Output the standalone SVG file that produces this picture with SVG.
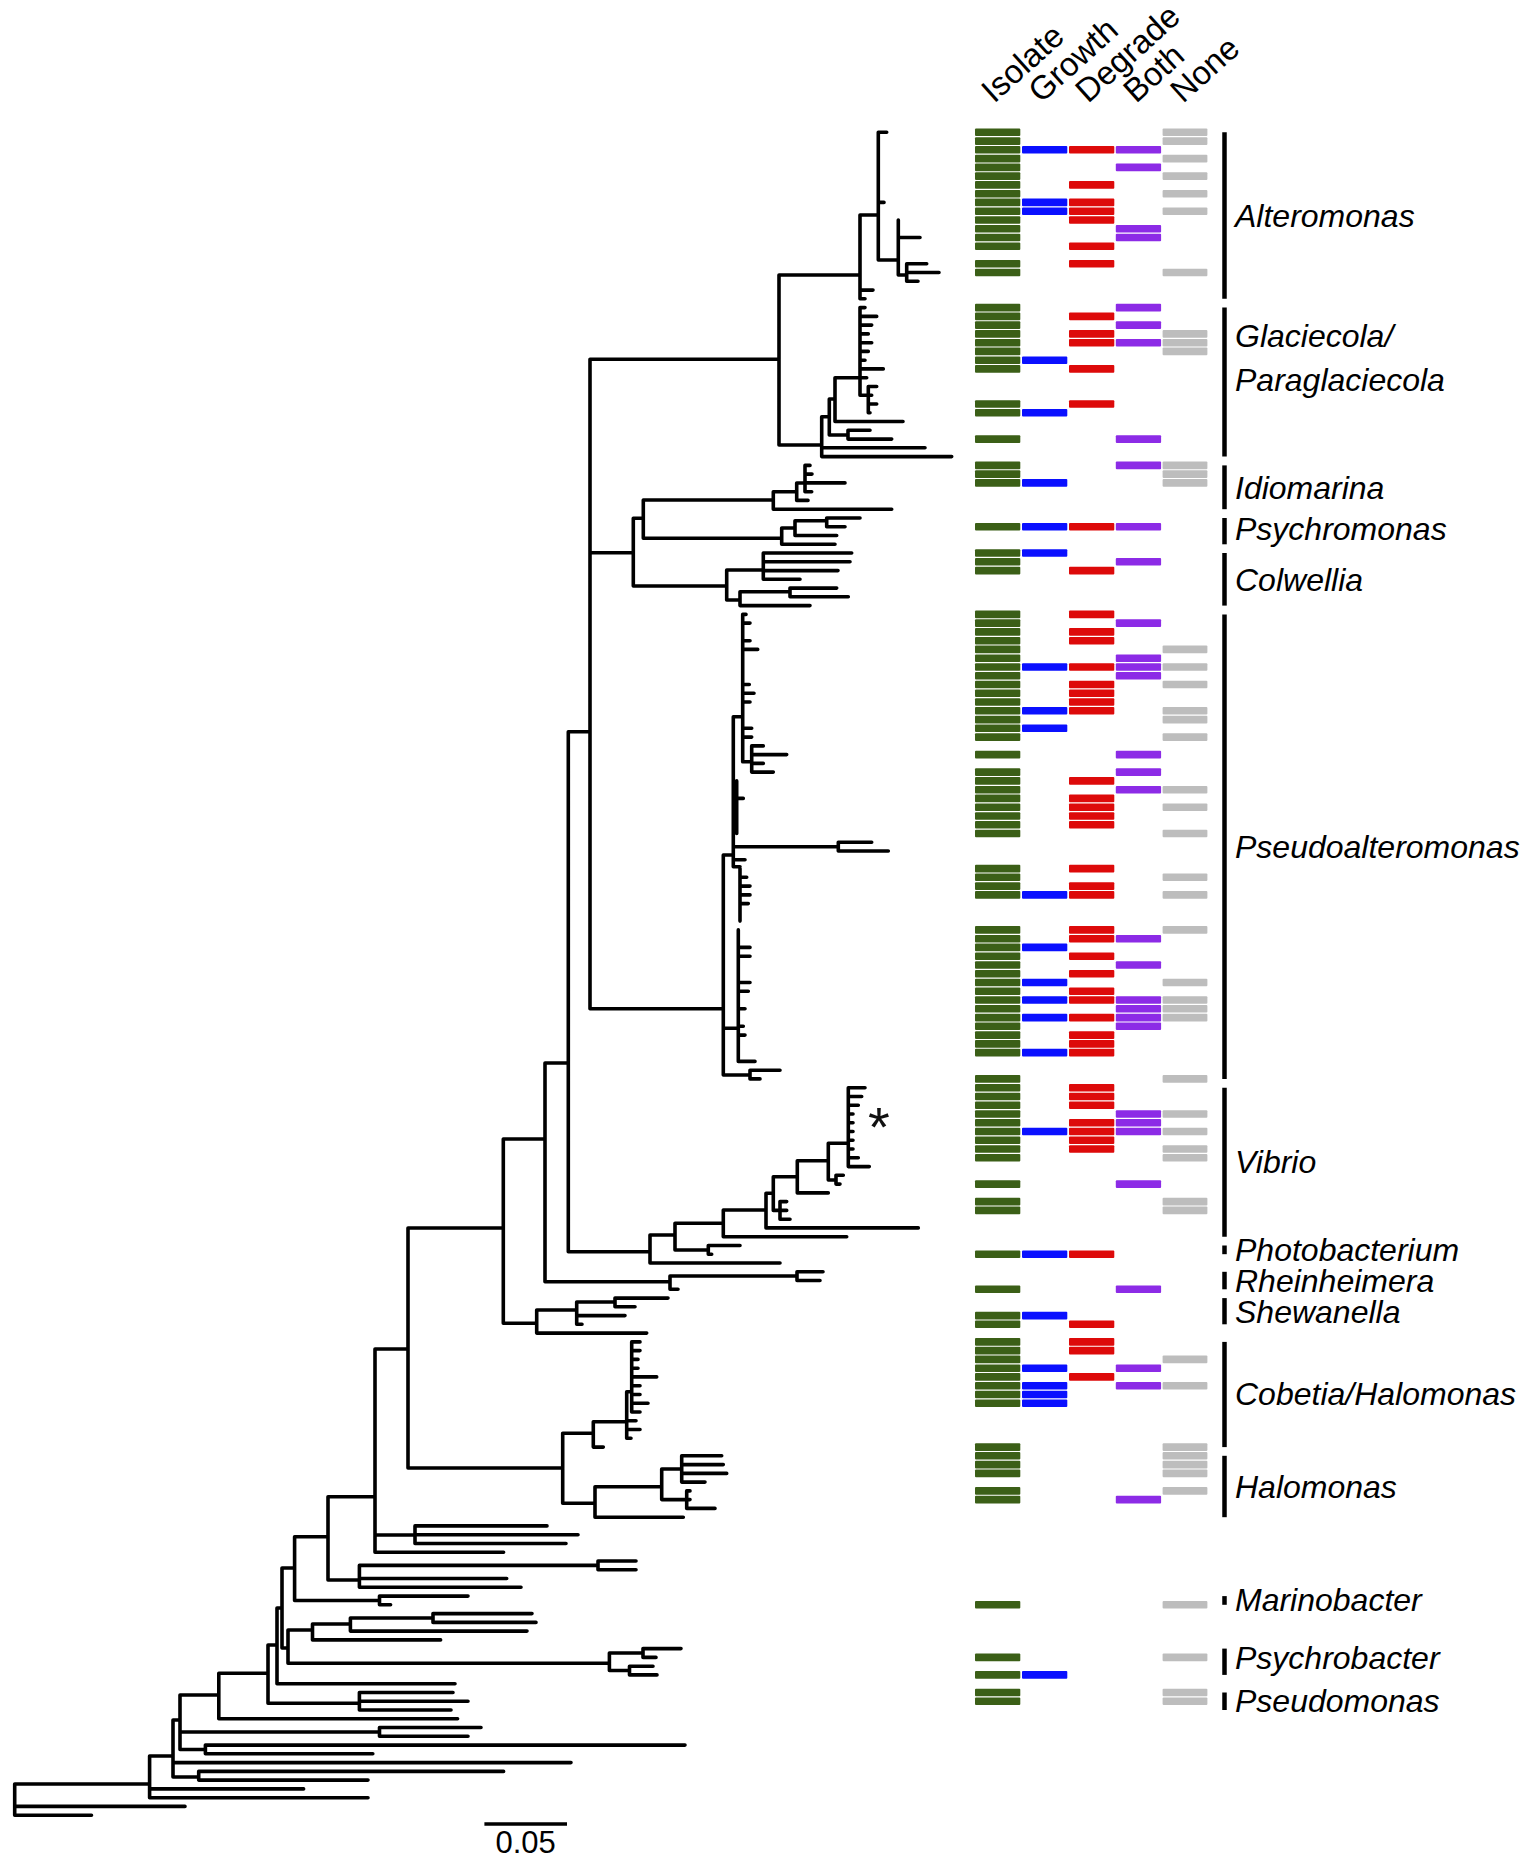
<svg xmlns="http://www.w3.org/2000/svg" xmlns:xlink="http://www.w3.org/1999/xlink" width="1535" height="1866" viewBox="0 0 1535 1866">
<style>
.br{fill:none;stroke:#000;stroke-width:3.6;stroke-linecap:round;stroke-linejoin:round}
.g{fill:#3b5f17}.b{fill:#0a10ff}.r{fill:#dd0a0a}.p{fill:#8c2be6}.n{fill:#bdbdbd}
.hd{font-family:"Liberation Sans",Arial,sans-serif;font-size:33px;fill:#000}
.gn{font-family:"Liberation Sans",Arial,sans-serif;font-size:32px;font-style:italic;fill:#000}
.brk{stroke:#000;stroke-width:4.5;fill:none}
</style>
<defs>
<rect id="G" x="975" width="45.3" height="7.6" rx="1" class="g"/>
<rect id="B" x="1022" width="45.3" height="7.6" rx="1" class="b"/>
<rect id="R" x="1069" width="45.3" height="7.6" rx="1" class="r"/>
<rect id="P" x="1115.8" width="45.3" height="7.6" rx="1" class="p"/>
<rect id="N" x="1162.6" width="44.8" height="7.6" rx="1" class="n"/>
</defs>
<rect width="1535" height="1866" fill="#fff"/>
<g id="connectors">
<path class="br" d="M14.7 1784V1815.2M14.7 1784H149.6M14.7 1806.4H185M14.7 1815.2H91.5
M149.6 1756V1797.7M149.6 1756H173M149.6 1788.9H303.6M149.6 1797.7H368
M173 1720V1777M173 1720H180M173 1762.6H571M173 1777H198.7
M198.7 1771.4V1780.1M198.7 1771.4H503.6M198.7 1780.1H368
M180 1695V1749.5M180 1695H218.8M180 1732H379.5M180 1749.5H205.4
M379.5 1727.5V1736.3M379.5 1727.5H481M379.5 1736.3H468
M205.4 1745.1V1753.8M205.4 1745.1H685M205.4 1753.8H372.8
M218.8 1673.3V1718.8M218.8 1673.3H268M218.8 1718.8H457.6
M268 1645V1703.3M268 1645H277M268 1703.3H359.4
M359.4 1692.5V1710M359.4 1692.5H453M359.4 1701.2H468M359.4 1710H451
M277 1608V1683.7M277 1608H282M277 1683.7H455
M282 1568V1648M282 1568H294.6M282 1648H288
M288 1630V1663.3M288 1630H312.5M288 1663.3H609.4
M312.5 1624V1639.9M312.5 1624H350.4M312.5 1639.9H440.6
M350.4 1618V1631.1M350.4 1618H433M350.4 1631.1H527
M433 1613.6V1622.4M433 1613.6H532M433 1622.4H536
M609.4 1653V1670.5M609.4 1653H643M609.4 1670.5H629.5
M643 1648.6V1657.4M643 1648.6H681M643 1657.4H656
M629.5 1666.2V1674.9M629.5 1666.2H653M629.5 1674.9H657
M294.6 1536.7V1600.5M294.6 1536.7H328M294.6 1600.5H379.5
M379.5 1596.1V1604.8M379.5 1596.1H468M379.5 1604.8H390.6
M328 1496.7V1580M328 1496.7H375M328 1580H359.4
M359.4 1565.4V1587.3M359.4 1565.4H598M359.4 1578.5H506.7M359.4 1587.3H521
M598 1561V1569.8M598 1561H636M598 1569.8H636
M375 1349V1552.2M375 1349H408M375 1535H415M375 1552.2H503.6
M415 1525.9V1543.5M415 1525.9H547M415 1534.7H578M415 1543.5H566
M408 1228V1468M408 1228H503.3M408 1468H562.7
M562.7 1433.3V1503.3M562.7 1433.3H593.3M562.7 1503.3H595
M593.3 1421.7V1447.1M593.3 1421.7H626.7M593.3 1447.1H603.3
M626.7 1391.7V1438.3M626.7 1391.7H631.7M626.7 1420.8H636M626.7 1429.5H640M626.7 1438.3H631
M631.7 1341.9V1412M631.7 1341.9H640M631.7 1350.6H640M631.7 1359.4H638M631.7 1368.2H638M631.7 1376.9H656.7M631.7 1385.7H640M631.7 1394.5H640M631.7 1403.2H648M631.7 1412H640
M595 1486.7V1517.2M595 1486.7H661.7M595 1517.2H683.3
M661.7 1469V1499.6M661.7 1469H681.7M661.7 1499.6H686.7
M681.7 1455.8V1482.1M681.7 1455.8H721.7M681.7 1464.6H723.3M681.7 1473.4H726.7M681.7 1482.1H705
M686.7 1490.9V1508.4M686.7 1490.9H690M686.7 1499.6H690M686.7 1508.4H715
M503.3 1139V1323.3M503.3 1139H545M503.3 1323.3H536.7
M536.7 1310V1333.1M536.7 1310H576.7M536.7 1333.1H646.7
M576.7 1302V1324.3M576.7 1302H615M576.7 1315.6H625M576.7 1324.3H582
M615 1298.1V1306.8M615 1298.1H668M615 1306.8H635
M545 1063V1281.7M545 1063H568.3M545 1281.7H670
M670 1276V1289.3M670 1276H797M670 1289.3H678
M797 1271.8V1280.5M797 1271.8H823M797 1280.5H820
M568.3 731.7V1251.7M568.3 731.7H590M568.3 1251.7H650
M650 1235V1263M650 1235H675M650 1263H780
M675 1223.3V1250M675 1223.3H723.3M675 1250H708.3
M708.3 1245.5V1254.2M708.3 1245.5H740M708.3 1254.2H711.7
M723.3 1210V1236.7M723.3 1210H766M723.3 1236.7H846.7
M766 1193.3V1227.9M766 1193.3H773.3M766 1227.9H918.3
M773.3 1176.7V1210.4M773.3 1176.7H797.3M773.3 1210.4H780
M780 1201.6V1219.2M780 1201.6H786.7M780 1210.4H786.7M780 1219.2H790
M797.3 1160.7V1192.9M797.3 1160.7H828.3M797.3 1192.9H828.3
M828.3 1143.3V1180M828.3 1143.3H848.3M828.3 1180H836
M836 1175.3V1184.1M836 1175.3H843.3M836 1184.1H840
M848.3 1087.7V1166.6M848.3 1087.7H865M848.3 1096.5H861.7M848.3 1105.2H858.3M848.3 1114H853M848.3 1122.7H853M848.3 1131.5H853M848.3 1140.3H853M848.3 1149H853M848.3 1157.8H858.3M848.3 1166.6H869.3
M590 359.3V1008.8M590 359.3H779M590 552.7H633.3M590 1008.8H723.3
M779 275V445M779 275H860M779 445H821.7
M860 215V298.8M860 215H878.3M860 290.1H873M860 298.8H865
M878.3 132.3V260M878.3 132.3H886.7M878.3 202.4H884M878.3 260H898.3
M898.3 220V275M898.3 237.5H920M898.3 275H906.7
M906.7 263.8V281.3M906.7 263.8H926.7M906.7 272.5H939M906.7 281.3H918
M821.7 416.7V456.6M821.7 416.7H829.3M821.7 447.8H925M821.7 456.6H951.7
M829.3 399V435M829.3 399H835M829.3 435H848
M848 430.3V439.1M848 430.3H870M848 439.1H891.7
M835 377.7V421.5M835 377.7H860M835 421.5H903
M860 307.6V395.2M860 307.6H865M860 316.4H876.7M860 325.1H871.7M860 333.9H868.3M860 342.7H871.7M860 351.4H868.3M860 360.2H865M860 368.9H883.3M860 377.7H866.7M860 395.2H868.3
M868.3 386.5V412.8M868.3 386.5H876.7M868.3 395.2H871.7M868.3 404H876.7M868.3 412.8H870
M633.3 518.3V586M633.3 518.3H643.3M633.3 586H726.7
M643.3 500V538.3M643.3 500H773.3M643.3 538.3H781.7
M773.3 491.7V509.2M773.3 491.7H796.7M773.3 509.2H891.7
M796.7 483V500.4M796.7 483H805M796.7 500.4H808
M805 465.4V491.7M805 465.4H810M805 474.1H812M805 482.9H845M805 491.7H811.7
M781.7 528V544.3M781.7 528H795M781.7 544.3H835
M795 520.7V535.5M795 520.7H826.7M795 535.5H836.7
M826.7 518V526.7M826.7 518H860M826.7 526.7H845
M726.7 570V600M726.7 570H763.3M726.7 600H740
M763.3 553V579.3M763.3 553H851.7M763.3 561.8H850M763.3 570.6H838M763.3 579.3H800
M740 591.7V605.6M740 591.7H790M740 605.6H810
M790 588.1V596.8M790 588.1H836.7M790 596.8H848.3
M723.3 855V1075M723.3 855H733.3M723.3 1028.3H738.3M723.3 1075H750
M733.3 716.7V866.7M733.3 716.7H742.7M733.3 807H736.7M733.3 846.7H838.3M733.3 859.8H745M733.3 866.7H740
M742.7 614.4V761.7M742.7 614.4H746M742.7 623.1H750M742.7 640.7H750M742.7 649.4H757.7M742.7 684.5H749.3M742.7 693.3H754M742.7 702H750M742.7 728.3H751.7M742.7 737.1H751.7M742.7 761.7H751.7
M751.7 745.9V772.1M751.7 745.9H763.3M751.7 754.6H786.7M751.7 763.4H763.3M751.7 772.1H773.3
M736.7 780.9V833.5M736.7 798.4H743.3
M838.3 842.3V851M838.3 842.3H871.7M838.3 851H888.3
M740 868.6V921.1M740 877.3H746.7M740 886.1H750M740 894.9H750M740 903.6H748.3
M738.3 929.9V1061.4M738.3 947.4H750M738.3 956.2H750M738.3 982.5H750M738.3 991.3H748.3M738.3 1008.8H745M738.3 1026.3H743.3M738.3 1035.1H745M738.3 1061.4H755
M750 1070.2V1078.9M750 1070.2H780M750 1078.9H760"/>
</g>
<g id="asterisk"><text x="879" y="1146" font-family="Liberation Sans, Arial, sans-serif" font-size="56" text-anchor="middle" fill="#111">*</text></g>
<g id="scale-bar">
<path d="M484.4 1824H567" stroke="#000" stroke-width="3.5" fill="none"/>
<text x="525.7" y="1853" font-family="Liberation Sans, Arial, sans-serif" font-size="31" text-anchor="middle">0.05</text>
</g>
<g id="column-headers">
<text class="hd" transform="translate(994,104) rotate(-42)">Isolate</text>
<text class="hd" transform="translate(1041,104) rotate(-42)">Growth</text>
<text class="hd" transform="translate(1088,104) rotate(-42)">Degrade</text>
<text class="hd" transform="translate(1136,104) rotate(-42)">Both</text>
<text class="hd" transform="translate(1183,104) rotate(-42)">None</text>
</g>
<g id="col-isolate">
<use href="#G" y="128.5"/><use href="#G" y="137.3"/><use href="#G" y="146.0"/><use href="#G" y="154.8"/><use href="#G" y="163.6"/><use href="#G" y="172.3"/><use href="#G" y="181.1"/><use href="#G" y="189.9"/><use href="#G" y="198.6"/><use href="#G" y="207.4"/><use href="#G" y="216.2"/><use href="#G" y="224.9"/><use href="#G" y="233.7"/><use href="#G" y="242.4"/><use href="#G" y="260.0"/><use href="#G" y="268.7"/>
<use href="#G" y="303.8"/><use href="#G" y="312.6"/><use href="#G" y="321.3"/><use href="#G" y="330.1"/><use href="#G" y="338.9"/><use href="#G" y="347.6"/><use href="#G" y="356.4"/><use href="#G" y="365.1"/><use href="#G" y="400.2"/><use href="#G" y="409.0"/><use href="#G" y="435.3"/>
<use href="#G" y="461.6"/><use href="#G" y="470.3"/><use href="#G" y="479.1"/><use href="#G" y="522.9"/><use href="#G" y="549.2"/><use href="#G" y="558.0"/><use href="#G" y="566.8"/>
<use href="#G" y="610.6"/><use href="#G" y="619.3"/><use href="#G" y="628.1"/><use href="#G" y="636.9"/><use href="#G" y="645.6"/><use href="#G" y="654.4"/><use href="#G" y="663.2"/><use href="#G" y="671.9"/><use href="#G" y="680.7"/><use href="#G" y="689.5"/><use href="#G" y="698.2"/><use href="#G" y="707.0"/><use href="#G" y="715.8"/><use href="#G" y="724.5"/><use href="#G" y="733.3"/><use href="#G" y="750.8"/><use href="#G" y="768.3"/><use href="#G" y="777.1"/><use href="#G" y="785.9"/><use href="#G" y="794.6"/><use href="#G" y="803.4"/><use href="#G" y="812.2"/><use href="#G" y="820.9"/><use href="#G" y="829.7"/>
<use href="#G" y="864.8"/><use href="#G" y="873.5"/><use href="#G" y="882.3"/><use href="#G" y="891.1"/><use href="#G" y="926.1"/><use href="#G" y="934.9"/><use href="#G" y="943.6"/><use href="#G" y="952.4"/><use href="#G" y="961.2"/><use href="#G" y="969.9"/><use href="#G" y="978.7"/><use href="#G" y="987.5"/><use href="#G" y="996.2"/><use href="#G" y="1005.0"/><use href="#G" y="1013.8"/><use href="#G" y="1022.5"/><use href="#G" y="1031.3"/><use href="#G" y="1040.1"/><use href="#G" y="1048.8"/><use href="#G" y="1075.1"/>
<use href="#G" y="1083.9"/><use href="#G" y="1092.7"/><use href="#G" y="1101.4"/><use href="#G" y="1110.2"/><use href="#G" y="1118.9"/><use href="#G" y="1127.7"/><use href="#G" y="1136.5"/><use href="#G" y="1145.2"/><use href="#G" y="1154.0"/><use href="#G" y="1180.3"/><use href="#G" y="1197.8"/><use href="#G" y="1206.6"/>
<use href="#G" y="1250.4"/><use href="#G" y="1285.5"/><use href="#G" y="1311.8"/><use href="#G" y="1320.5"/><use href="#G" y="1338.1"/><use href="#G" y="1346.8"/><use href="#G" y="1355.6"/><use href="#G" y="1364.4"/><use href="#G" y="1373.1"/><use href="#G" y="1381.9"/><use href="#G" y="1390.7"/><use href="#G" y="1399.4"/>
<use href="#G" y="1443.3"/><use href="#G" y="1452.0"/><use href="#G" y="1460.8"/><use href="#G" y="1469.6"/><use href="#G" y="1487.1"/><use href="#G" y="1495.8"/><use href="#G" y="1601.0"/><use href="#G" y="1653.6"/><use href="#G" y="1671.1"/><use href="#G" y="1688.7"/><use href="#G" y="1697.4"/>
</g>
<g id="col-growth">
<use href="#B" y="146.0"/><use href="#B" y="198.6"/><use href="#B" y="207.4"/><use href="#B" y="356.4"/><use href="#B" y="409.0"/><use href="#B" y="479.1"/><use href="#B" y="522.9"/><use href="#B" y="549.2"/><use href="#B" y="663.2"/><use href="#B" y="707.0"/><use href="#B" y="724.5"/><use href="#B" y="891.1"/><use href="#B" y="943.6"/><use href="#B" y="978.7"/><use href="#B" y="996.2"/><use href="#B" y="1013.8"/><use href="#B" y="1048.8"/><use href="#B" y="1127.7"/><use href="#B" y="1250.4"/><use href="#B" y="1311.8"/><use href="#B" y="1364.4"/><use href="#B" y="1381.9"/><use href="#B" y="1390.7"/><use href="#B" y="1399.4"/><use href="#B" y="1671.1"/>
</g>
<g id="col-degrade">
<use href="#R" y="146.0"/><use href="#R" y="181.1"/><use href="#R" y="198.6"/><use href="#R" y="207.4"/><use href="#R" y="216.2"/><use href="#R" y="242.4"/><use href="#R" y="260.0"/><use href="#R" y="312.6"/><use href="#R" y="330.1"/><use href="#R" y="338.9"/><use href="#R" y="365.1"/><use href="#R" y="400.2"/><use href="#R" y="522.9"/><use href="#R" y="566.8"/>
<use href="#R" y="610.6"/><use href="#R" y="628.1"/><use href="#R" y="636.9"/><use href="#R" y="663.2"/><use href="#R" y="680.7"/><use href="#R" y="689.5"/><use href="#R" y="698.2"/><use href="#R" y="707.0"/><use href="#R" y="777.1"/><use href="#R" y="794.6"/><use href="#R" y="803.4"/><use href="#R" y="812.2"/><use href="#R" y="820.9"/>
<use href="#R" y="864.8"/><use href="#R" y="882.3"/><use href="#R" y="891.1"/><use href="#R" y="926.1"/><use href="#R" y="934.9"/><use href="#R" y="952.4"/><use href="#R" y="969.9"/><use href="#R" y="987.5"/><use href="#R" y="996.2"/><use href="#R" y="1013.8"/><use href="#R" y="1031.3"/><use href="#R" y="1040.1"/><use href="#R" y="1048.8"/>
<use href="#R" y="1083.9"/><use href="#R" y="1092.7"/><use href="#R" y="1101.4"/><use href="#R" y="1118.9"/><use href="#R" y="1127.7"/><use href="#R" y="1136.5"/><use href="#R" y="1145.2"/><use href="#R" y="1250.4"/><use href="#R" y="1320.5"/><use href="#R" y="1338.1"/><use href="#R" y="1346.8"/><use href="#R" y="1373.1"/>
</g>
<g id="col-both">
<use href="#P" y="146.0"/><use href="#P" y="163.6"/><use href="#P" y="224.9"/><use href="#P" y="233.7"/><use href="#P" y="303.8"/><use href="#P" y="321.3"/><use href="#P" y="338.9"/><use href="#P" y="435.3"/><use href="#P" y="461.6"/><use href="#P" y="522.9"/><use href="#P" y="558.0"/>
<use href="#P" y="619.3"/><use href="#P" y="654.4"/><use href="#P" y="663.2"/><use href="#P" y="671.9"/><use href="#P" y="750.8"/><use href="#P" y="768.3"/><use href="#P" y="785.9"/><use href="#P" y="934.9"/><use href="#P" y="961.2"/><use href="#P" y="996.2"/><use href="#P" y="1005.0"/><use href="#P" y="1013.8"/><use href="#P" y="1022.5"/>
<use href="#P" y="1110.2"/><use href="#P" y="1118.9"/><use href="#P" y="1127.7"/><use href="#P" y="1180.3"/><use href="#P" y="1285.5"/><use href="#P" y="1364.4"/><use href="#P" y="1381.9"/><use href="#P" y="1495.8"/>
</g>
<g id="col-none">
<use href="#N" y="128.5"/><use href="#N" y="137.3"/><use href="#N" y="154.8"/><use href="#N" y="172.3"/><use href="#N" y="189.9"/><use href="#N" y="207.4"/><use href="#N" y="268.7"/><use href="#N" y="330.1"/><use href="#N" y="338.9"/><use href="#N" y="347.6"/><use href="#N" y="461.6"/><use href="#N" y="470.3"/><use href="#N" y="479.1"/>
<use href="#N" y="645.6"/><use href="#N" y="663.2"/><use href="#N" y="680.7"/><use href="#N" y="707.0"/><use href="#N" y="715.8"/><use href="#N" y="733.3"/><use href="#N" y="785.9"/><use href="#N" y="803.4"/><use href="#N" y="829.7"/><use href="#N" y="873.5"/><use href="#N" y="891.1"/><use href="#N" y="926.1"/><use href="#N" y="978.7"/><use href="#N" y="996.2"/><use href="#N" y="1005.0"/><use href="#N" y="1013.8"/><use href="#N" y="1075.1"/>
<use href="#N" y="1110.2"/><use href="#N" y="1127.7"/><use href="#N" y="1145.2"/><use href="#N" y="1154.0"/><use href="#N" y="1197.8"/><use href="#N" y="1206.6"/><use href="#N" y="1355.6"/><use href="#N" y="1381.9"/><use href="#N" y="1443.3"/><use href="#N" y="1452.0"/><use href="#N" y="1460.8"/><use href="#N" y="1469.6"/><use href="#N" y="1487.1"/><use href="#N" y="1601.0"/><use href="#N" y="1653.6"/><use href="#N" y="1688.7"/><use href="#N" y="1697.4"/>
</g>
<g id="clade-alteromonas"><path class="brk" d="M1224.5 132.3V298.8"/><text class="gn" x="1235" y="227">Alteromonas</text></g>
<g id="clade-glaciecola"><path class="brk" d="M1224.5 307.6V456.6"/><text class="gn" x="1235" y="347">Glaciecola/</text><text class="gn" x="1235" y="391">Paraglaciecola</text></g>
<g id="clade-idiomarina"><path class="brk" d="M1224.5 465.4V509.2"/><text class="gn" x="1235" y="499">Idiomarina</text></g>
<g id="clade-psychromonas"><path class="brk" d="M1224.5 518V544.3"/><text class="gn" x="1235" y="540">Psychromonas</text></g>
<g id="clade-colwellia"><path class="brk" d="M1224.5 553V605.6"/><text class="gn" x="1235" y="591">Colwellia</text></g>
<g id="clade-pseudoalteromonas"><path class="brk" d="M1224.5 614.4V1078.9"/><text class="gn" x="1235" y="858">Pseudoalteromonas</text></g>
<g id="clade-vibrio"><path class="brk" d="M1224.5 1087.7V1236.7"/><text class="gn" x="1235" y="1173">Vibrio</text></g>
<g id="clade-photobacterium"><path class="brk" d="M1224.5 1245.5V1254.2"/><text class="gn" x="1235" y="1261">Photobacterium</text></g>
<g id="clade-rheinheimera"><path class="brk" d="M1224.5 1271.8V1289.3"/><text class="gn" x="1235" y="1292">Rheinheimera</text></g>
<g id="clade-shewanella"><path class="brk" d="M1224.5 1298.1V1324.3"/><text class="gn" x="1235" y="1323">Shewanella</text></g>
<g id="clade-cobetia"><path class="brk" d="M1224.5 1341.9V1447.1"/><text class="gn" x="1235" y="1405">Cobetia/Halomonas</text></g>
<g id="clade-halomonas"><path class="brk" d="M1224.5 1455.8V1517.2"/><text class="gn" x="1235" y="1498">Halomonas</text></g>
<g id="clade-marinobacter"><path class="brk" d="M1224.5 1596.1V1604.8"/><text class="gn" x="1235" y="1611">Marinobacter</text></g>
<g id="clade-psychrobacter"><path class="brk" d="M1224.5 1648.6V1674.9"/><text class="gn" x="1235" y="1669">Psychrobacter</text></g>
<g id="clade-pseudomonas"><path class="brk" d="M1224.5 1692.5V1710"/><text class="gn" x="1235" y="1712">Pseudomonas</text></g>
</svg>
